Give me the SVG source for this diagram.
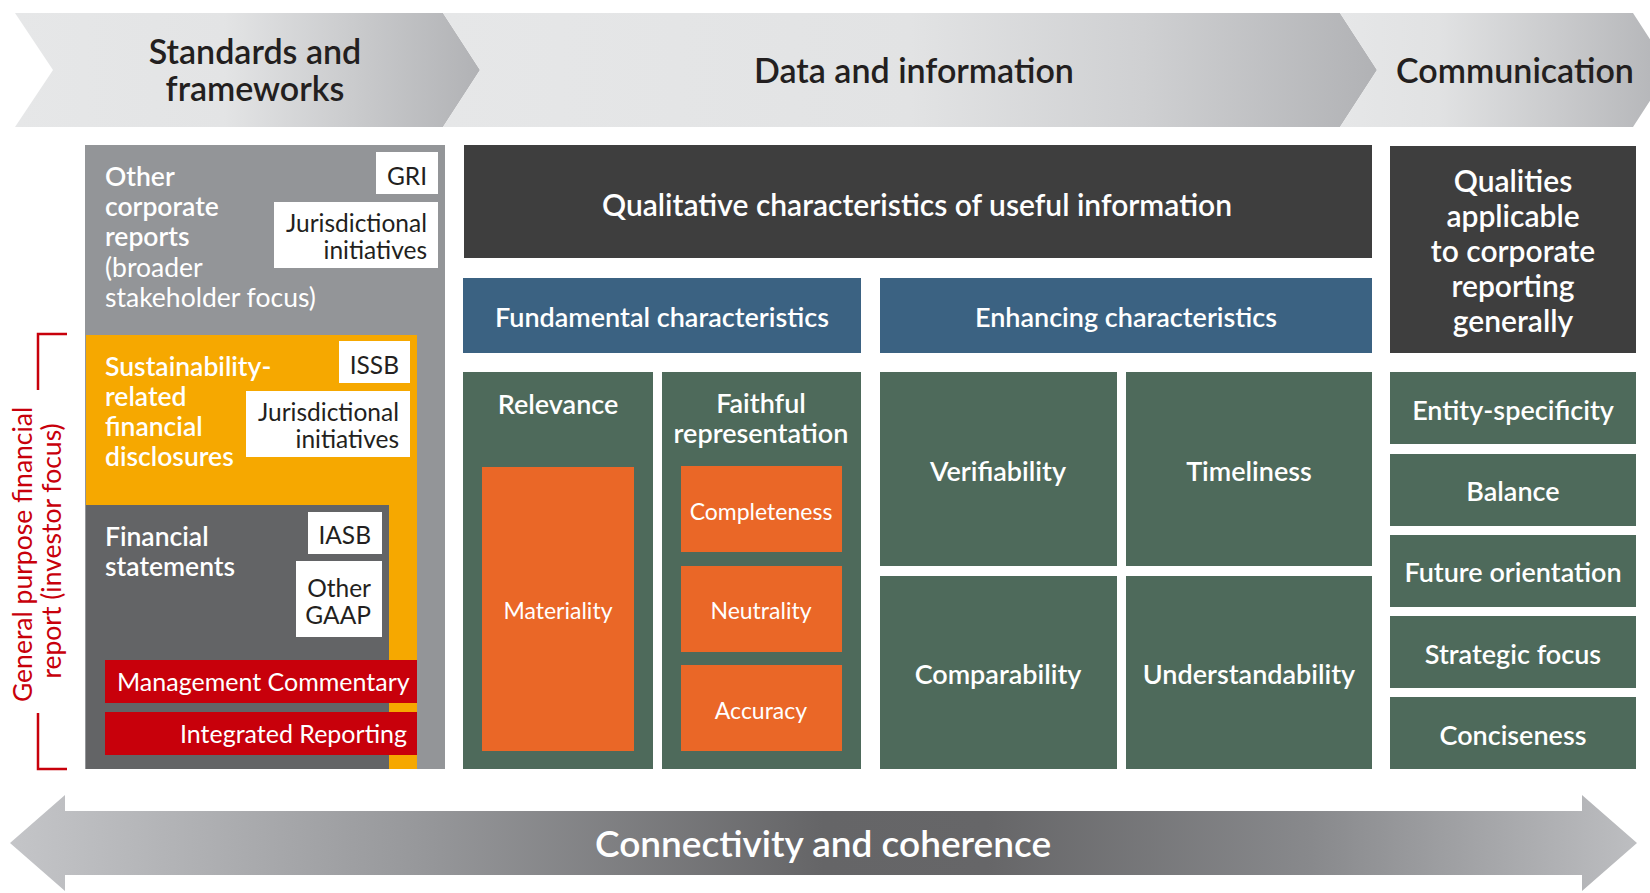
<svg xmlns="http://www.w3.org/2000/svg" width="1650" height="893" viewBox="0 0 1650 893">
  <defs>
    <linearGradient id="chev1" x1="0" y1="0" x2="1" y2="0">
      <stop offset="0" stop-color="#e6e7e8"/>
      <stop offset="0.45" stop-color="#e3e4e5"/>
      <stop offset="1" stop-color="#b1b2b5"/>
    </linearGradient>
    <linearGradient id="chev2" x1="0" y1="0" x2="1" y2="0">
      <stop offset="0" stop-color="#e6e7e8"/>
      <stop offset="0.5" stop-color="#e2e3e4"/>
      <stop offset="0.75" stop-color="#cfd0d2"/>
      <stop offset="1" stop-color="#b1b2b5"/>
    </linearGradient>
    <linearGradient id="chev3" x1="0" y1="0" x2="1" y2="0">
      <stop offset="0" stop-color="#e6e7e8"/>
      <stop offset="0.3" stop-color="#e1e2e3"/>
      <stop offset="1" stop-color="#b3b4b7"/>
    </linearGradient>
    <linearGradient id="band" x1="0" y1="0" x2="1" y2="0">
      <stop offset="0" stop-color="#c4c5c8"/>
      <stop offset="0.25" stop-color="#97989b"/>
      <stop offset="0.5" stop-color="#656567"/>
      <stop offset="0.6" stop-color="#666668"/>
      <stop offset="0.8" stop-color="#88898c"/>
      <stop offset="1" stop-color="#bdbec1"/>
    </linearGradient>
    <style>
      text { font-family: Lato, "Liberation Sans", sans-serif; }
      .head { font-size: 34px; font-weight: 600; fill: #231f20; text-anchor: middle; }
      .wb { font-size: 26.5px; font-weight: 600; fill: #ffffff; }
      .wr { font-size: 26.5px; font-weight: 400; fill: #ffffff; }
      .rb { font-size: 25px; font-weight: 400; fill: #ffffff; }
      .box { font-size: 24.5px; font-weight: 400; fill: #231f20; text-anchor: end; }
      .lbl { font-size: 27px; font-weight: 600; fill: #ffffff; text-anchor: middle; }
      .sub { font-size: 23px; font-weight: 400; fill: #ffffff; text-anchor: middle; }
      .big { font-size: 30px; font-weight: 600; fill: #ffffff; text-anchor: middle; }
      .white { fill: #ffffff; }
      .green { fill: #4e6a5b; }
      .blue { fill: #3b6282; }
      .dark { fill: #3e3e3e; }
      .orange { fill: #ea6727; }
      .red { fill: #c8000b; }
    </style>
  </defs>

  <!-- process chevrons -->
  <g id="standards-frameworks">
    <polygon points="15,13 443,13 480,70 443,127 15,127 53,70" fill="url(#chev1)"/>
    <text class="head"><tspan x="255" y="64">Standards and</tspan><tspan x="255" y="101">frameworks</tspan></text>
  </g>
  <g id="data-information">
    <polygon points="443,13 1340,13 1377,70 1340,127 443,127 480,70" fill="url(#chev2)"/>
    <text class="head" x="914" y="83">Data and information</text>
  </g>
  <g id="communication">
    <polygon points="1340,13 1633,13 1670,70 1633,127 1340,127 1377,70" fill="url(#chev3)"/>
    <text class="head" x="1515" y="83">Communication</text>
  </g>

  <!-- reporting layers -->
  <g id="other-corporate-reports">
    <rect x="85" y="145" width="360" height="624" fill="#939598"/>
    <text class="wb"><tspan x="105" y="186">Other</tspan><tspan x="105" y="216">corporate</tspan><tspan x="105" y="246">reports</tspan><tspan class="wr" x="105" y="277">(broader</tspan><tspan class="wr" x="105" y="307">stakeholder focus)</tspan></text>
  </g>
  <g id="gri">
    <rect class="white" x="376" y="152" width="62" height="42"/>
    <text class="box" x="427" y="185">GRI</text>
  </g>
  <g id="jurisdictional-1">
    <rect class="white" x="274" y="202" width="164" height="66"/>
    <text class="box"><tspan x="427" y="232">Jurisdictional</tspan><tspan x="427" y="259">initiatives</tspan></text>
  </g>

  <g id="sustainability-disclosures">
    <rect x="86" y="335" width="331" height="434" fill="#f6a800"/>
    <text class="wb"><tspan x="105" y="376">Sustainability-</tspan><tspan x="105" y="406">related</tspan><tspan x="105" y="436">financial</tspan><tspan x="105" y="466">disclosures</tspan></text>
  </g>
  <g id="issb">
    <rect class="white" x="339" y="341" width="71" height="42"/>
    <text class="box" x="399" y="374">ISSB</text>
  </g>
  <g id="jurisdictional-2">
    <rect class="white" x="246" y="391" width="164" height="66"/>
    <text class="box"><tspan x="399" y="421">Jurisdictional</tspan><tspan x="399" y="448">initiatives</tspan></text>
  </g>

  <g id="financial-statements">
    <rect x="86" y="505" width="303" height="264" fill="#636466"/>
    <text class="wb"><tspan x="105" y="546">Financial</tspan><tspan x="105" y="576">statements</tspan></text>
  </g>
  <g id="iasb">
    <rect class="white" x="308" y="512" width="74" height="42"/>
    <text class="box" x="371" y="544">IASB</text>
  </g>
  <g id="other-gaap">
    <rect class="white" x="296" y="561" width="86" height="76"/>
    <text class="box"><tspan x="371" y="597">Other</tspan><tspan x="371" y="624">GAAP</tspan></text>
  </g>
  <g id="management-commentary">
    <rect class="red" x="105" y="660" width="312" height="43"/>
    <text class="rb" x="117" y="691">Management Commentary</text>
  </g>
  <g id="integrated-reporting">
    <rect class="red" x="105" y="712" width="312" height="43"/>
    <text class="rb" x="407" y="743" text-anchor="end">Integrated Reporting</text>
  </g>

  <!-- investor-focus bracket -->
  <g id="general-purpose-bracket">
    <polyline points="67,334 38,334 38,390" fill="none" stroke="#c8000b" stroke-width="2.5"/>
    <polyline points="38,713 38,769 67,769" fill="none" stroke="#c8000b" stroke-width="2.5"/>
    <text transform="translate(32,551) rotate(-90)" font-size="26.5" fill="#c8000b" text-anchor="middle">
      <tspan x="0" y="0">General purpose financial</tspan>
      <tspan x="0" y="29">report (investor focus)</tspan>
    </text>
  </g>

  <!-- qualitative characteristics -->
  <g id="qualitative-characteristics">
    <rect class="dark" x="464" y="145" width="908" height="113"/>
    <text class="big" x="917" y="216">Qualitative characteristics of useful information</text>
  </g>
  <g id="fundamental">
    <rect class="blue" x="463" y="278" width="398" height="75"/>
    <text class="lbl" x="662" y="327">Fundamental characteristics</text>
  </g>
  <g id="enhancing">
    <rect class="blue" x="880" y="278" width="492" height="75"/>
    <text class="lbl" x="1126" y="327">Enhancing characteristics</text>
  </g>

  <g id="relevance">
    <rect class="green" x="463" y="372" width="190" height="397"/>
    <text class="lbl" x="558" y="414">Relevance</text>
  </g>
  <g id="materiality">
    <rect class="orange" x="482" y="467" width="152" height="284"/>
    <text class="sub" x="558" y="619">Materiality</text>
  </g>
  <g id="faithful-representation">
    <rect class="green" x="662" y="372" width="199" height="397"/>
    <text class="lbl"><tspan x="761" y="413">Faithful</tspan><tspan x="761" y="443">representation</tspan></text>
  </g>
  <g id="completeness">
    <rect class="orange" x="681" y="466" width="161" height="86"/>
    <text class="sub" x="761" y="520">Completeness</text>
  </g>
  <g id="neutrality">
    <rect class="orange" x="681" y="566" width="161" height="86"/>
    <text class="sub" x="761" y="619">Neutrality</text>
  </g>
  <g id="accuracy">
    <rect class="orange" x="681" y="665" width="161" height="86"/>
    <text class="sub" x="761" y="719">Accuracy</text>
  </g>

  <g id="verifiability">
    <rect class="green" x="880" y="372" width="237" height="194"/>
    <text class="lbl" x="998" y="481">Verifiability</text>
  </g>
  <g id="timeliness">
    <rect class="green" x="1126" y="372" width="246" height="194"/>
    <text class="lbl" x="1249" y="481">Timeliness</text>
  </g>
  <g id="comparability">
    <rect class="green" x="880" y="576" width="237" height="193"/>
    <text class="lbl" x="998" y="684">Comparability</text>
  </g>
  <g id="understandability">
    <rect class="green" x="1126" y="576" width="246" height="193"/>
    <text class="lbl" x="1249" y="684">Understandability</text>
  </g>

  <!-- communication qualities -->
  <g id="qualities-general">
    <rect class="dark" x="1390" y="146" width="246" height="207"/>
    <text class="big"><tspan x="1513" y="192">Qualities</tspan><tspan x="1513" y="227">applicable</tspan><tspan x="1513" y="262">to corporate</tspan><tspan x="1513" y="297">reporting</tspan><tspan x="1513" y="332">generally</tspan></text>
  </g>
  <g id="entity-specificity">
    <rect class="green" x="1390" y="372" width="246" height="72"/>
    <text class="lbl" x="1513" y="420">Entity-specificity</text>
  </g>
  <g id="balance">
    <rect class="green" x="1390" y="454" width="246" height="72"/>
    <text class="lbl" x="1513" y="501">Balance</text>
  </g>
  <g id="future-orientation">
    <rect class="green" x="1390" y="535" width="246" height="72"/>
    <text class="lbl" x="1513" y="582">Future orientation</text>
  </g>
  <g id="strategic-focus">
    <rect class="green" x="1390" y="616" width="246" height="72"/>
    <text class="lbl" x="1513" y="664">Strategic focus</text>
  </g>
  <g id="conciseness">
    <rect class="green" x="1390" y="697" width="246" height="72"/>
    <text class="lbl" x="1513" y="745">Conciseness</text>
  </g>

  <!-- connectivity band -->
  <g id="connectors">
    <polygon points="10,843 65,795 65,811 1582,811 1582,795 1637,843 1582,891 1582,875 65,875 65,891" fill="url(#band)"/>
    <text x="823" y="857" font-size="37" font-weight="600" fill="#ffffff" text-anchor="middle">Connectivity and coherence</text>
  </g>
</svg>
